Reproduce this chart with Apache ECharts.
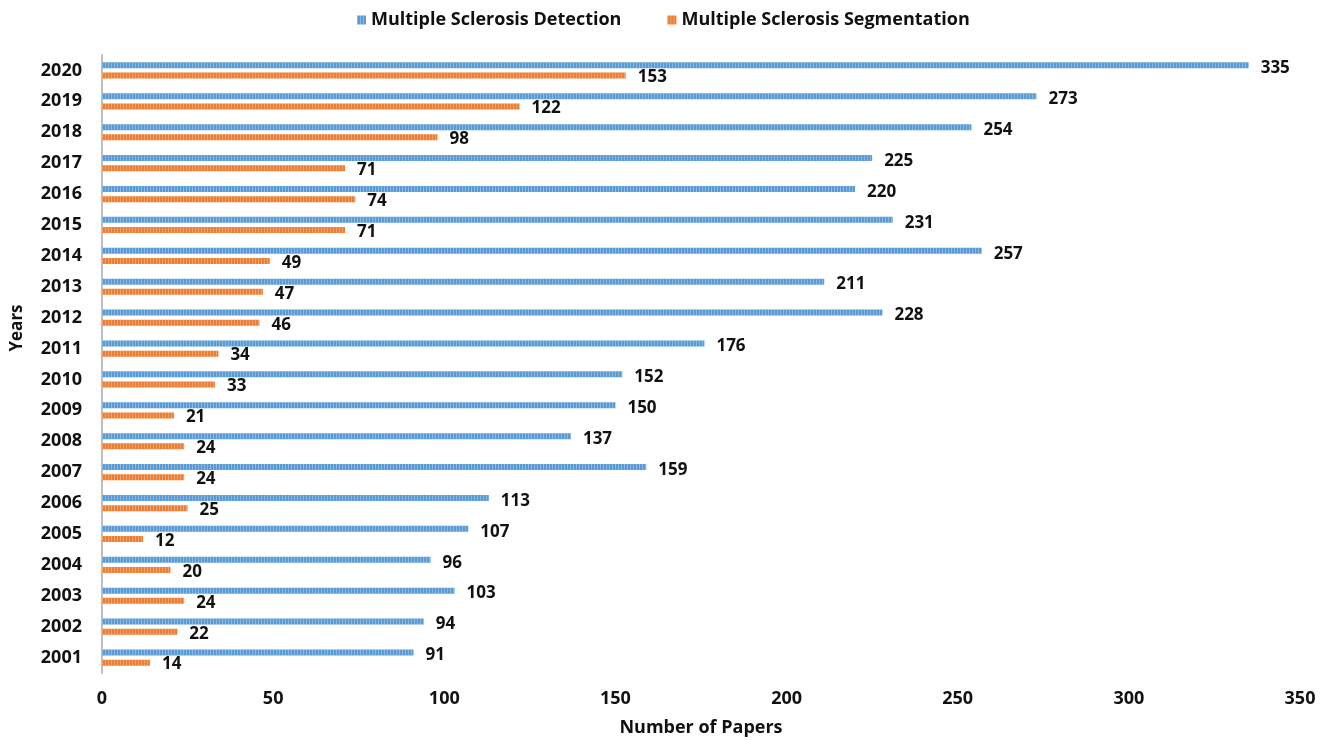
<!DOCTYPE html>
<html>
<head>
<meta charset="utf-8">
<script src="https://cdn.jsdelivr.net/npm/echarts@6/dist/echarts.min.js"></script>
<style>
html,body{margin:0;padding:0;background:#fff;}
#chart{width:1327px;height:740px;}
</style>
</head>
<body>
<div id="chart"></div>
<script>
// Publications per year
const years = ['2001','2002','2003','2004','2005','2006','2007','2008','2009','2010',
               '2011','2012','2013','2014','2015','2016','2017','2018','2019','2020'];
const detection = [91, 94, 103, 96, 107, 113, 159, 137, 150, 152,
                   176, 228, 211, 257, 231, 220, 225, 254, 273, 335];
const segmentation = [14, 22, 24, 20, 12, 25, 24, 24, 21, 33,
                      34, 46, 47, 49, 71, 74, 71, 98, 122, 153];
const xTicks = [0, 50, 100, 150, 200, 250, 300, 350];

const FONT = '"Open Sans", sans-serif';
const chart = echarts.init(document.getElementById('chart'), null, {renderer: 'canvas'});

const stripe = {
  symbol: 'rect',
  color: 'rgba(255,255,255,0.28)',
  dashArrayX: [1, 2],
  dashArrayY: [4, 0],
  symbolSize: 1,
  rotation: 0
};

chart.setOption({
  animation: false,
  backgroundColor: '#fff',
  legend: {
    top: 6,
    left: 352,
    itemWidth: 9,
    itemHeight: 9,
    itemGap: 46,
    icon: 'rect',
    textStyle: {fontFamily: FONT, fontWeight: 'bold', fontSize: 18, color: '#111'},
    data: ['Multiple Sclerosis Detection', 'Multiple Sclerosis Segmentation']
  },
  grid: {left: 102, right: 27, top: 55, bottom: 67, containLabel: false, outerBoundsMode: 'none'},
  xAxis: {
    type: 'value',
    min: 0,
    max: xTicks[xTicks.length - 1],
    interval: 50,
    name: 'Number of Papers',
    nameLocation: 'middle',
    nameGap: 46,
    nameTextStyle: {fontFamily: FONT, fontWeight: 'bold', fontSize: 18, color: '#111'},
    axisLine: {show: false},
    axisTick: {show: false},
    splitLine: {show: false},
    axisLabel: {fontFamily: FONT, fontWeight: 'bold', fontSize: 18, color: '#111', margin: 17}
  },
  yAxis: {
    type: 'category',
    data: years,
    name: 'Years',
    nameLocation: 'middle',
    nameGap: 76,
    nameRotate: 90,
    nameTextStyle: {fontFamily: FONT, fontWeight: 'bold', fontSize: 17, color: '#111', padding: [0, 0, 0, 72]},
    axisLine: {show: true, lineStyle: {color: '#bfbfbf', width: 2}},
    axisTick: {show: false},
    axisLabel: {fontFamily: FONT, fontWeight: 'bold', fontSize: 18, color: '#111', margin: 20}
  },
  series: [
    {
      name: 'Multiple Sclerosis Detection',
      type: 'bar',
      data: detection,
      barWidth: 6,
      barGap: '70%',
      itemStyle: {color: '#5b9bd5', decal: stripe},
      label: {
        show: true, position: 'right', distance: 12, offset: [0, 3],
        fontFamily: FONT, fontWeight: 'bold', fontSize: 17, color: '#111'
      }
    },
    {
      name: 'Multiple Sclerosis Segmentation',
      type: 'bar',
      data: segmentation,
      barWidth: 6,
      itemStyle: {color: '#ed7d31', decal: stripe},
      label: {
        show: true, position: 'right', distance: 12, offset: [0, 2],
        fontFamily: FONT, fontWeight: 'bold', fontSize: 17, color: '#111'
      }
    }
  ]
});
</script>
</body>
</html>
